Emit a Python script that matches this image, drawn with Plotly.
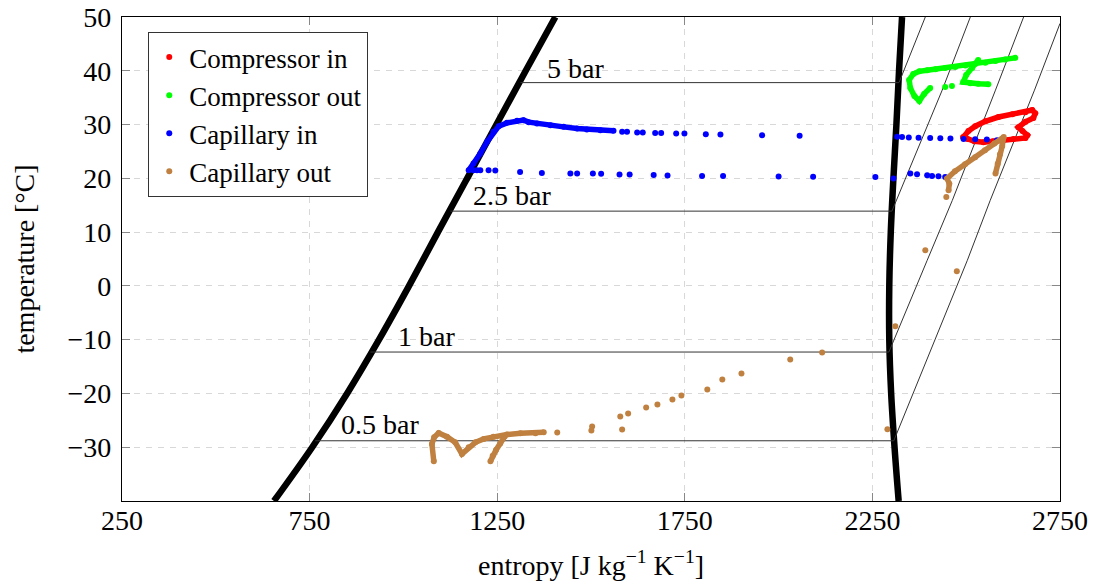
import plotly.graph_objects as go

# ---------------- axes ----------------
x_ticks = [250, 750, 1250, 1750, 2250, 2750]
y_ticks = [-30, -20, -10, 0, 10, 20, 30, 40, 50]

# ---------------- saturation dome ----------------
liq_T = [-40, -30, -20, -10, 0, 10, 20, 30, 40, 50]
liq_s = [655, 757, 850, 935, 1015, 1092, 1170, 1248, 1326, 1405]
vap_T = [-40, -30, -20, -10, 0, 10, 20, 30, 40, 50]
vap_s = [2320, 2309, 2300, 2295, 2295, 2299, 2306, 2314, 2321, 2329]

# ---------------- isobars ----------------
iso5_s = [1312, 2321, 2391]
iso5_T = [37.8, 37.8, 50]
iso25_s = [1125, 2302, 2436, 2511]
iso25_T = [13.9, 13.9, 36.4, 50]
iso1_s = [912, 2294, 2396, 2463, 2578, 2653]
iso1_T = [-12.3, -12.3, 4.75, 15.9, 36.4, 50]
iso05_s = [765, 2307, 2503, 2564, 2682, 2750]
iso05_T = [-28.8, -28.8, 4.75, 15.9, 36.4, 48.8]

label_text = ["5 bar", "2.5 bar", "1 bar", "0.5 bar"]
label_s = [1458, 1290, 1061, 938]
label_T = [40.5, 16.85, -9.4, -25.8]

# ---------------- Compressor in (red) ----------------
cin_s = [2492, 2506, 2524, 2551, 2586, 2623, 2658, 2676, 2684, 2679, 2658, 2639,
         2650, 2663, 2658, 2626, 2599, 2572, 2546, 2522, 2503, 2492]
cin_T = [27.65, 28.8, 29.7, 30.6, 31.4, 31.9, 32.3, 32.7, 32.1, 31.2, 30.5, 29.5,
         28.8, 28.0, 27.5, 27.3, 27.1, 26.9, 26.7, 26.9, 27.3, 27.65]

# ---------------- Compressor out (green) ----------------
cout_a_s = [2404, 2388, 2375, 2362, 2351, 2348, 2359, 2375, 2396, 2418, 2444, 2471,
            2498, 2524, 2551, 2578, 2604, 2631]
cout_a_T = [36.8, 35.7, 34.4, 35.3, 36.8, 38.3, 39.4, 39.9, 40.1, 40.3, 40.5, 40.7,
            41.0, 41.25, 41.5, 41.8, 42.1, 42.4]
cout_b_s = [2532, 2516, 2500, 2492, 2511, 2532, 2559]
cout_b_T = [42.0, 40.5, 39.2, 37.9, 37.7, 37.6, 37.5]
cout_pts_s = [2444, 2462]
cout_pts_T = [37.0, 37.15]

# ---------------- Capillary in (blue) ----------------
capin_path_s = [1174, 1187, 1205, 1223, 1240, 1254, 1276, 1303, 1320, 1334, 1356,
                1392, 1427, 1463, 1489, 1525, 1560]
capin_path_T = [21.5, 22.76, 24.62, 26.78, 28.64, 29.70, 30.32, 30.69, 30.82, 30.45,
                30.20, 29.89, 29.57, 29.27, 29.09, 28.96, 28.83]
capin_up_s = [1583, 1596, 1623, 1638, 1671, 1687, 1727, 1749, 1806, 1845, 1956, 2056,
              2316, 2329, 2347, 2373, 2404, 2431, 2458, 2493, 2524, 2555, 2582]
capin_up_T = [28.64, 28.64, 28.53, 28.53, 28.45, 28.45, 28.34, 28.34, 28.21, 28.16,
              28.03, 27.9, 27.75, 27.7, 27.6, 27.55, 27.5, 27.45, 27.4, 27.3, 27.25,
              27.2, 27.1]
capin_lo_s = [1187, 1196, 1205, 1227, 1245, 1311, 1369, 1445, 1463, 1505, 1527, 1576,
              1603, 1667, 1704, 1796, 1852, 2000, 2092, 2258, 2306, 2351, 2369, 2396,
              2409, 2426, 2444]
capin_lo_T = [21.5, 21.5, 21.5, 21.5, 21.45, 21.2, 21.0, 20.9, 20.9, 20.9, 20.85,
              20.7, 20.7, 20.6, 20.55, 20.45, 20.45, 20.35, 20.3, 20.26, 19.96, 20.9,
              20.76, 20.58, 20.45, 20.39, 20.26]

# ---------------- Capillary out (brown) ----------------
capout_m_s = [1081, 1076, 1082, 1094, 1116, 1138, 1156, 1174, 1192, 1214, 1240,
              1276, 1312, 1352, 1374]
capout_m_T = [-32.6, -29.39, -28.16, -27.34, -28.03, -29.09, -31.25, -30.02, -29.09,
              -28.45, -28.03, -27.65, -27.41, -27.41, -27.23]
capout_leg_s = [1232, 1238, 1247, 1258, 1270]
capout_leg_T = [-32.6, -31.6, -30.5, -29.3, -28.0]
capout_arrow_s = [2453, 2455, 2449, 2470, 2497, 2524, 2550, 2575, 2600, 2596, 2590,
                  2584, 2578]
capout_arrow_T = [17.78, 19.0, 19.96, 21.3, 22.6, 23.93, 25.2, 26.5, 27.7, 26.0,
                  24.5, 22.7, 20.9]
capout_pts_s = [1410, 1503, 1501, 1578, 1583, 1599, 1647, 1677, 1717, 1741, 1810,
                1850, 1901, 2031, 2116, 2290, 2311, 2391, 2475, 2447]
capout_pts_T = [-27.28, -26.16, -26.91, -24.30, -26.72, -23.74, -22.63, -22.07,
                -21.14, -20.39, -19.27, -17.40, -16.29, -13.69, -12.38, -26.67,
                -7.49, 6.61, 2.70, 16.54]

RED = "#ff0000"
GREEN = "#00ff00"
BLUE = "#0000ff"
BROWN = "#bf8040"
FONT = "Liberation Serif"
FS = 28
MS = 6
LW = 5.5

fig = go.Figure()

# dome
fig.add_trace(go.Scatter(x=liq_s, y=liq_T, mode="lines", line=dict(color="black", width=6.5, shape="spline"),
                         showlegend=False, hoverinfo="skip"))
fig.add_trace(go.Scatter(x=vap_s, y=vap_T, mode="lines", line=dict(color="black", width=6.5, shape="spline"),
                         showlegend=False, hoverinfo="skip"))
for xs, ys in [(iso5_s, iso5_T), (iso25_s, iso25_T), (iso1_s, iso1_T), (iso05_s, iso05_T)]:
    fig.add_trace(go.Scatter(x=xs, y=ys, mode="lines", line=dict(color="#333333", width=1),
                             showlegend=False, hoverinfo="skip"))


def dense(xs, ys, color):
    fig.add_trace(go.Scatter(x=xs, y=ys, mode="lines+markers",
                             line=dict(color=color, width=LW),
                             marker=dict(color=color, size=MS),
                             showlegend=False))


def sparse(xs, ys, color):
    fig.add_trace(go.Scatter(x=xs, y=ys, mode="markers",
                             marker=dict(color=color, size=MS),
                             showlegend=False))


# Compressor in
dense(cin_s, cin_T, RED)
# Compressor out
dense(cout_a_s, cout_a_T, GREEN)
dense(cout_b_s, cout_b_T, GREEN)
sparse(cout_pts_s, cout_pts_T, GREEN)
# Capillary in
dense(capin_path_s, capin_path_T, BLUE)
sparse(capin_up_s, capin_up_T, BLUE)
sparse(capin_lo_s, capin_lo_T, BLUE)
# Capillary out
dense(capout_m_s, capout_m_T, BROWN)
dense(capout_leg_s, capout_leg_T, BROWN)
dense(capout_arrow_s, capout_arrow_T, BROWN)
sparse(capout_pts_s, capout_pts_T, BROWN)

# legend entries
for name, color in [("Compressor in", RED), ("Compressor out", GREEN),
                    ("Capillary in", BLUE), ("Capillary out", BROWN)]:
    fig.add_trace(go.Scatter(x=[None], y=[None], mode="markers", name=name,
                             marker=dict(color=color, size=MS)))

for t, xs, ys in zip(label_text, label_s, label_T):
    fig.add_annotation(x=xs, y=ys, xref="x", yref="y", text=t, showarrow=False,
                       font=dict(family=FONT, size=FS, color="black"))

axis_common = dict(showline=True, linecolor="black", linewidth=1.3, mirror="all",
                   ticks="inside", ticklen=8, tickcolor="#888888", tickwidth=1,
                   showgrid=True, gridcolor="#d8d8d8", griddash="6px,6px", gridwidth=1,
                   zeroline=False, automargin=False,
                   tickfont=dict(family=FONT, size=FS, color="black"))

fig.update_xaxes(range=[250, 2750], tickvals=x_ticks, **axis_common,
                 title=dict(text="entropy [J kg<sup>−1</sup> K<sup>−1</sup>]",
                            font=dict(family=FONT, size=FS, color="black"), standoff=20),
                 ticklabelstandoff=-6)
fig.update_yaxes(range=[-40, 50], tickvals=y_ticks, **axis_common,
                 title=dict(text="temperature [°C]",
                            font=dict(family=FONT, size=FS, color="black"), standoff=24),
                 ticklabelstandoff=4)

fig.update_layout(
    width=1097, height=586,
    margin=dict(l=122, r=37, t=17, b=85),
    paper_bgcolor="white", plot_bgcolor="white",
    font=dict(family=FONT, size=FS, color="black"),
    legend=dict(x=0.028, y=0.969, xanchor="left", yanchor="top",
                bgcolor="white", bordercolor="#333333", borderwidth=1,
                font=dict(family=FONT, size=27, color="black"),
                itemwidth=30, tracegroupgap=0),
    showlegend=True,
)

fig.write_html("out.html",
               config={"displayModeBar": False},
               post_script="document.body.style.margin='0px';document.body.style.overflow='hidden';")
